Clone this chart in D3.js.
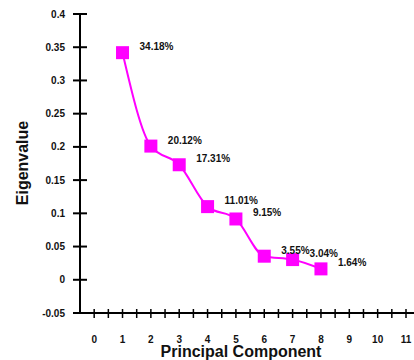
<!DOCTYPE html>
<html>
<head>
<meta charset="utf-8">
<script src="https://cdn.jsdelivr.net/npm/d3@7"></script>
<style>
  body { margin: 0; background: #fff; }
  text { font-family: "Liberation Sans", Arial, sans-serif; font-weight: bold; fill: #111; }
</style>
</head>
<body>
<svg id="chart"></svg>
<script>
// Data
const components = [1, 2, 3, 4, 5, 6, 7, 8];
const eigenvalues = [0.3418, 0.2012, 0.1731, 0.1101, 0.0915, 0.0355, 0.0304, 0.0164];
const pctLabels = ["34.18%", "20.12%", "17.31%", "11.01%", "9.15%", "3.55%", "3.04%", "1.64%"];
const yTicks = [-0.05, 0, 0.05, 0.1, 0.15, 0.2, 0.25, 0.3, 0.35, 0.4];
const xTicks = [0, 1, 2, 3, 4, 5, 6, 7, 8, 9, 10, 11];

const width = 414, height = 360;

const svg = d3.select("#chart")
    .attr("width", width)
    .attr("height", height);

// Scales
const x = d3.scaleLinear().domain([-0.5, 11]).range([80, 406]);
const y = d3.scaleLinear().domain([-0.05, 0.4]).range([313, 14]);

// Y axis
const yAxis = svg.append("g").attr("transform", "translate(80,0)");
yAxis.append("line")
    .attr("x1", 0).attr("x2", 0)
    .attr("y1", y(0.4)).attr("y2", y(-0.05))
    .attr("stroke", "#000").attr("stroke-width", 2);
yAxis.selectAll(".yt")
    .data(yTicks)
    .enter()
    .append("line")
    .attr("x1", -7).attr("x2", 7)
    .attr("y1", d => y(d)).attr("y2", d => y(d))
    .attr("stroke", "#000").attr("stroke-width", 2);
yAxis.selectAll(".yl")
    .data(yTicks)
    .enter()
    .append("text")
    .attr("x", -15)
    .attr("y", d => y(d))
    .attr("dy", "0.35em")
    .attr("text-anchor", "end")
    .style("font-size", "10px")
    .text(d => d);

// X axis
const xAxis = svg.append("g").attr("transform", `translate(0,${y(-0.05)})`);
xAxis.append("line")
    .attr("x1", 80).attr("x2", 414)
    .attr("y1", 0).attr("y2", 0)
    .attr("stroke", "#000").attr("stroke-width", 2);
xAxis.selectAll(".xt")
    .data(d3.range(0, 11.01, 0.5))
    .enter()
    .append("line")
    .attr("x1", d => x(d)).attr("x2", d => x(d))
    .attr("y1", -4).attr("y2", 5)
    .attr("stroke", "#000").attr("stroke-width", 1.5);
xAxis.selectAll(".xl")
    .data(xTicks)
    .enter()
    .append("text")
    .attr("x", d => x(d))
    .attr("y", 26)
    .attr("dy", "0.35em")
    .attr("text-anchor", "middle")
    .style("font-size", "10px")
    .text(d => d);

// Axis titles
svg.append("text")
    .attr("transform", "translate(28,163) rotate(-90)")
    .attr("text-anchor", "middle")
    .style("font-size", "16px")
    .text("Eigenvalue");
svg.append("text")
    .attr("x", 241)
    .attr("y", 357)
    .attr("text-anchor", "middle")
    .style("font-size", "16px")
    .text("Principal Component");

// Line
const line = d3.line()
    .x((d, i) => x(components[i]))
    .y(d => y(d))
    .curve(d3.curveMonotoneX);

svg.append("path")
    .datum(eigenvalues)
    .attr("d", line)
    .attr("fill", "none")
    .attr("stroke", "#ff00ff")
    .attr("stroke-width", 2);

// Markers
const size = 13;
svg.selectAll(".pt")
    .data(eigenvalues)
    .enter()
    .append("rect")
    .attr("x", (d, i) => x(components[i]) - size / 2)
    .attr("y", d => y(d) - size / 2)
    .attr("width", size)
    .attr("height", size)
    .attr("fill", "#ff00ff");

// Labels
svg.selectAll(".lbl")
    .data(eigenvalues)
    .enter()
    .append("text")
    .attr("x", (d, i) => x(components[i]) + 17)
    .attr("y", d => y(d) - 6)
    .attr("dy", "0.35em")
    .style("font-size", "10px")
    .text((d, i) => pctLabels[i]);
</script>
</body>
</html>
